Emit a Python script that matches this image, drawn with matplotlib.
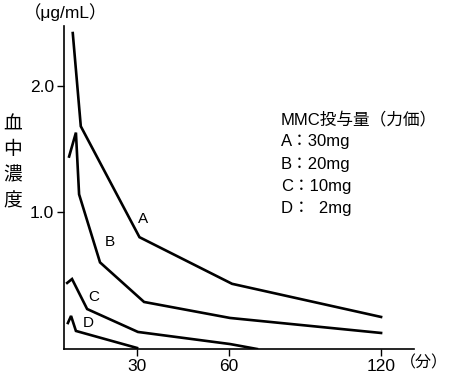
import numpy as np
import matplotlib

matplotlib.use("Agg")
import matplotlib.pyplot as plt

plt.rcParams["font.family"] = ["Liberation Sans", "Noto Sans CJK JP", "DejaVu Sans"]

# time (min) / concentration (ug/mL)
a_t = [3.6, 6.9, 30.8, 61.2, 120]
a_c = [2.42, 1.68, 0.80, 0.43, 0.167]
b_t = [2.1, 4.9, 6.2, 14.8, 32.3, 60.4, 120]
b_c = [1.44, 1.63, 1.14, 0.60, 0.286, 0.159, 0.04]
c_t = [1.3, 3.3, 9.5, 30.3, 60.4, 71]
c_c = [0.437, 0.468, 0.23, 0.048, -0.048, -0.087]
d_t = [1.6, 2.9, 4.9, 30]
d_c = [0.119, 0.175, 0.056, -0.079]

curve_labels = ["A", "B", "C", "D"]
label_t = [32.0, 18.9, 12.3, 9.9]
label_c = [0.944, 0.76, 0.325, 0.119]

x_ticks = [30, 60, 120]
y_ticks = [1.0, 2.0]
legend_lines = ["MMC投与量（力価）", "A：30mg", "B：20mg", "C：10mg", "D：  2mg"]

# the hand-drawn time axis is not evenly spaced
knot_t = np.array([-300, 0, 30, 60, 120, 400])
knot_p = np.array([-730, 0, 73, 165, 317, 317 + 280 * 76 / 30])


def fwd(t):
    return np.interp(t, knot_t, knot_p)


def inv(p):
    return np.interp(p, knot_p, knot_t)


fig = plt.figure(figsize=(4.5, 3.77), dpi=100)
ax = fig.add_axes([64 / 450, 28 / 377, 350 / 450, 323 / 377])
ax.set_xscale("function", functions=(fwd, inv))

for t, c in [(a_t, a_c), (b_t, b_c), (c_t, c_c), (d_t, d_c)]:
    ax.plot(t, c, color="black", lw=1.9, solid_joinstyle="miter")

for lab, t, c in zip(curve_labels, label_t, label_c):
    ax.text(t, c, lab, fontsize=11, ha="center", va="center")

ax.set_xlim(0, 133)
ax.set_ylim(-0.0873, 2.476)
ax.set_xticks(x_ticks)
ax.set_xticklabels([str(v) for v in x_ticks], fontsize=12.5)
ax.set_yticks(y_ticks)
ax.set_yticklabels([f"{v:.1f}" for v in y_ticks], fontsize=12.5)
ax.tick_params(length=5, width=1, pad=2)
ax.spines["top"].set_visible(False)
ax.spines["right"].set_visible(False)
for s in ("left", "bottom"):
    ax.spines[s].set_linewidth(1.2)

fig.text(400 / 450, 1 - 363 / 377, "（分）", fontsize=11.5, va="center", ha="left")
fig.text(24 / 450, 1 - 12 / 377, "（μg/mL）", fontsize=12.5, va="center", ha="left")

for i, ch in enumerate("血中濃度"):
    fig.text(13 / 450, 1 - (125 + i * 25.5) / 377, ch, fontsize=13.5,
             ha="center", va="center")

for i, line in enumerate(legend_lines):
    fig.text(281 / 450, 1 - (120 + i * 22) / 377, line, fontsize=12,
             ha="left", va="center")

fig.savefig("out.png", dpi=100)
